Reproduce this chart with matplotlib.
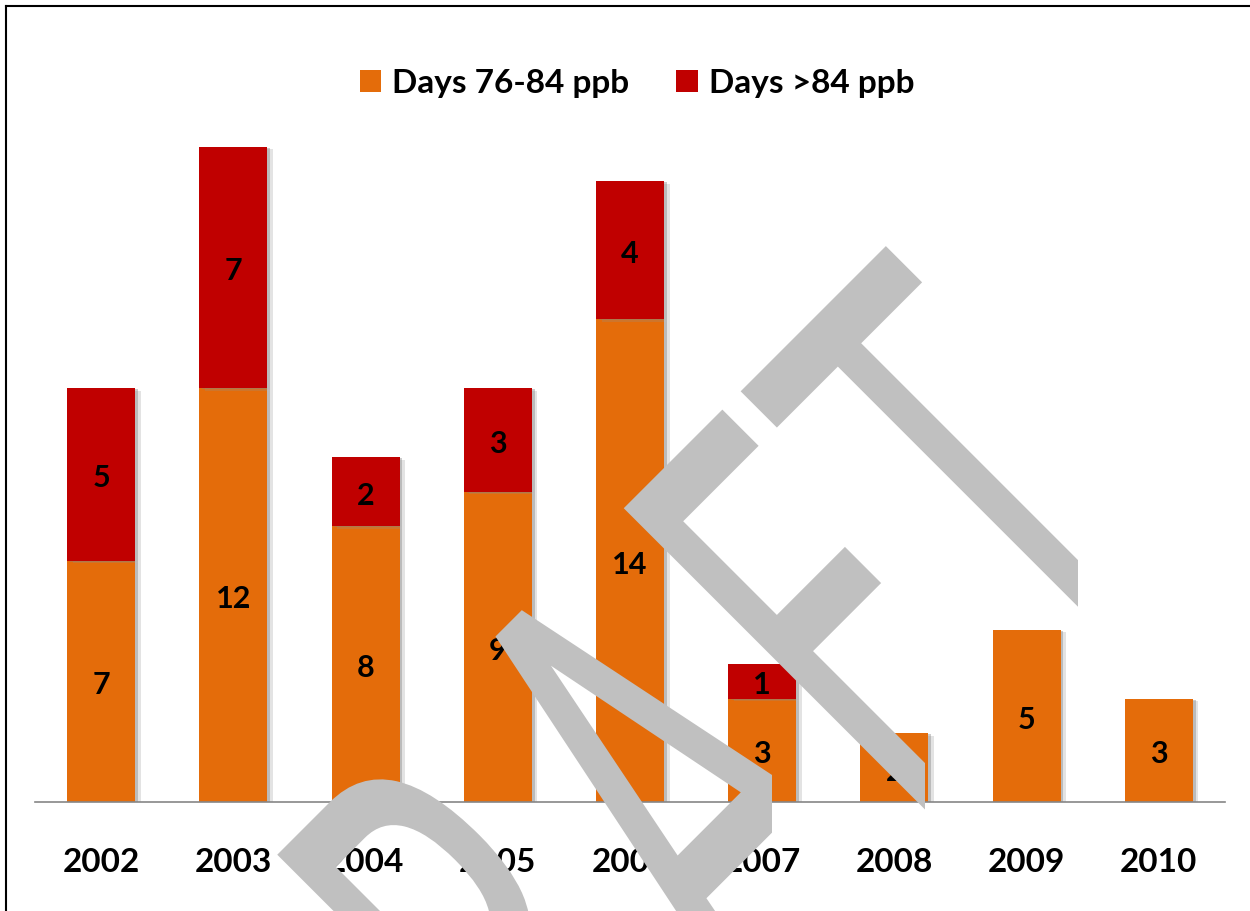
import matplotlib
matplotlib.use("Agg")
import matplotlib.pyplot as plt
from matplotlib.patches import Patch
from matplotlib.lines import Line2D
from matplotlib.patheffects import AbstractPathEffect, SimplePatchShadow, Normal
from matplotlib.transforms import Affine2D, Bbox
import numpy as np

years = ["2002", "2003", "2004", "2005", "2006", "2007", "2008", "2009", "2010"]
days_76_84 = [7, 12, 8, 9, 14, 3, 2, 5, 3]
days_over_84 = [5, 7, 2, 3, 4, 1, 0, 0, 0]

series_names = ["Days 76-84 ppb", "Days >84 ppb"]
orange = "#E46C0A"
red = "#C00000"

plt.rcParams["font.family"] = ["Lato", "DejaVu Sans"]
plt.rcParams["font.weight"] = "bold"

W, H = 1250, 911
fig = plt.figure(figsize=(W / 100, H / 100), dpi=100)
ax = fig.add_axes([35 / W, 109 / H, 1190 / W, 690 / H])

x = np.arange(len(years))
# soft drop shadow to the lower right of each bar
shadow = [SimplePatchShadow(offset=(4, -2), shadow_rgbFace="#909090", alpha=0.25),
          SimplePatchShadow(offset=(2, -1), shadow_rgbFace="#808080", alpha=0.4),
          Normal()]

b1 = ax.bar(x, days_76_84, width=0.515, color=orange, zorder=2)
b2 = ax.bar(x, days_over_84, width=0.515, bottom=days_76_84, color=red, zorder=2)
for bars in (b1, b2):
    for p in bars:
        p.set_path_effects(shadow)

for bars, vals in ((b1, days_76_84), (b2, days_over_84)):
    anns = ax.bar_label(bars, labels=[str(v) if v else "" for v in vals], label_type="center",
                        fontsize=22, fontweight="bold", color="black")
    for a in anns:
        a.xyann = (0, -3)

ax.set_xlim(-0.5, len(years) - 0.5)
ax.set_ylim(0, 20)
ax.set_xticks(x)
ax.set_xticklabels(years, fontsize=24, fontweight="bold")
ax.tick_params(axis="x", length=0, pad=33)
ax.set_yticks([])
for side in ("top", "right", "left"):
    ax.spines[side].set_visible(False)
ax.spines["bottom"].set_color("#868686")
ax.spines["bottom"].set_linewidth(1.2)
ax.spines["bottom"].set_zorder(3)

handles = [Patch(facecolor=orange), Patch(facecolor=red)]
fig.legend(handles, series_names, loc="center", bbox_to_anchor=(637 / W, 1 - 83 / H),
           ncol=2, frameon=False, prop={"size": 24, "weight": "bold"},
           handlelength=0.65, handleheight=0.65, handletextpad=0.33, columnspacing=1.4)

# frame along the top and left edge
fig.add_artist(Line2D([6 / W, 6 / W], [0, 1 - 6 / H], color="black", lw=1.5))
fig.add_artist(Line2D([6 / W, 1], [1 - 6 / H, 1 - 6 / H], color="black", lw=1.5))


class Squeeze(AbstractPathEffect):
    """Narrow glyphs along their own baseline."""

    def __init__(self, sx):
        super().__init__()
        self.sx = sx

    def draw_path(self, renderer, gc, tpath, affine, rgbFace=None):
        renderer.draw_path(gc, tpath, Affine2D().scale(self.sx, 1.0) + affine, rgbFace)


# DRAFT watermark, rotated 45 degrees, each letter cut off at its own strip edge
wm_letters = ["D", "R", "A", "F", "T"]
wm_shift = [-724, -441, -195, 49, 248]
wm_cut = [466, 619, 772, 925, 1078]
base = -1250
c = np.sqrt(0.5)
for ch, a, cut in zip(wm_letters, wm_shift, wm_cut):
    px = c * (a - base)
    py = H + c * (a + base)
    t = fig.text(px / W, py / H, ch, fontsize=444, family="DejaVu Sans", fontweight="normal",
                 color="#C0C0C0", rotation=45, rotation_mode="anchor",
                 ha="left", va="baseline", zorder=4)
    t.set_path_effects([Squeeze(0.54)])
    t.set_clip_box(Bbox.from_extents(0, 0, cut, H))
    t.set_clip_on(True)

fig.savefig("out.png", dpi=100)
